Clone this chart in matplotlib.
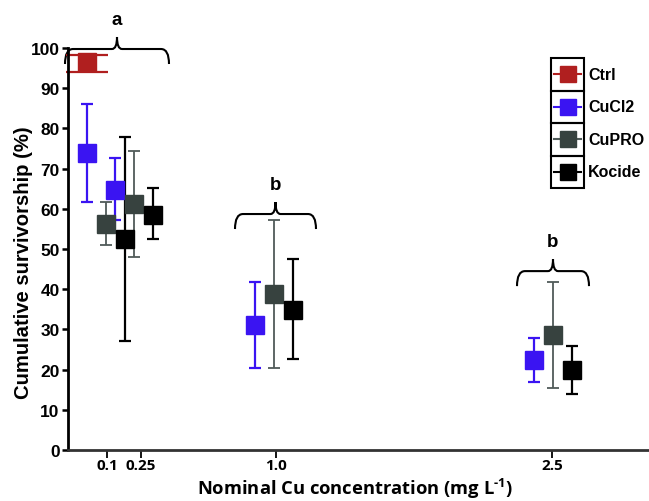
import matplotlib.pyplot as plt
from matplotlib.path import Path
from matplotlib.patches import PathPatch, Rectangle

plt.rcParams["mathtext.fontset"] = "custom"
plt.rcParams["mathtext.bf"] = "Open Sans:bold"
plt.rcParams["mathtext.rm"] = "Open Sans:bold"

# concentrations on the x axis
conc_labels = ["0.1", "0.25", "1.0", "2.5"]

# control (only one point, plotted left of the 0.1 group)
ctrl_mean = [96.5]
ctrl_hi = [98.3]
ctrl_lo = [94.0]

cucl2_mean = [73.9, 64.6, 31.1, 22.4]
cucl2_hi = [86.0, 72.7, 41.8, 27.9]
cucl2_lo = [61.6, 57.2, 20.5, 16.9]

cupro_mean = [56.2, 61.2, 38.8, 28.6]
cupro_hi = [61.7, 74.4, 57.2, 41.8]
cupro_lo = [51.0, 48.0, 20.4, 15.4]

kocide_mean = [52.4, 58.4, 34.8, 19.9]
kocide_hi = [77.9, 65.2, 47.5, 25.9]
kocide_lo = [27.2, 52.4, 22.6, 13.9]

sig_letters = ["a", "b", "b"]

# layout (x axis is in pixels from the y axis, not a real scale)
W, H = 649, 502
tick_pos = [39, 73, 208, 484]
group_pos = [38, 66, 206, 485]
offsets = {"CuCl2": -19, "CuPRO": 0, "Kocide": 19}
colors = {"Ctrl": "#b01f1f", "CuCl2": "#3a14f2", "CuPRO": "#37423f", "Kocide": "#000000"}
ecolors = {"Ctrl": "#b01f1f", "CuCl2": "#3a14f2", "CuPRO": "#505b59", "Kocide": "#000000"}

fig = plt.figure(figsize=(W / 100, H / 100), dpi=100)
ax = fig.add_axes([68 / W, 51 / H, (W - 68) / W, 402 / H])


def draw(xs, mean, lo, hi, name, cap=4.5, lw=1.6):
    err = [[m - l for m, l in zip(mean, lo)], [h - m for m, h in zip(mean, hi)]]
    ax.errorbar(xs, mean, yerr=err, fmt="s", ms=13, mfc=colors[name], mec=colors[name],
                ecolor=ecolors[name], elinewidth=lw, capsize=cap, capthick=lw, clip_on=False)


draw([group_pos[0] + offsets["CuCl2"]], ctrl_mean, ctrl_lo, ctrl_hi, "Ctrl", cap=15)
for name, m, lo, hi in [("CuCl2", cucl2_mean, cucl2_lo, cucl2_hi),
                        ("CuPRO", cupro_mean, cupro_lo, cupro_hi),
                        ("Kocide", kocide_mean, kocide_lo, kocide_hi)]:
    xs = [g + offsets[name] for g in group_pos]
    draw(xs, m, lo, hi, name, lw=1.3 if name == "CuPRO" else 1.6)

ax.set_xlim(0, W - 68)
ax.set_ylim(0, 100)
ax.set_yticks(range(0, 101, 10))
ax.set_xticks(tick_pos)
ax.set_xticklabels(conc_labels, fontfamily="Open Sans", fontweight="bold", fontsize=11)
for t in ax.get_yticklabels():
    t.set_fontfamily("Liberation Sans")
    t.set_fontweight("bold")
    t.set_fontsize(12.5)
ax.tick_params(axis="x", length=6, width=1.3, pad=0)
ax.tick_params(axis="y", length=4, width=1.8, pad=2)
ax.spines["top"].set_visible(False)
ax.spines["right"].set_visible(False)
ax.spines["left"].set_linewidth(2)
ax.spines["bottom"].set_linewidth(2)
ax.spines["bottom"].set_color("#333333")

# curly braces over the groups
ppu = 402 / 100.0


def brace(x0, x1, y, letter):
    xm = (x0 + x1) / 2
    drop = 15 / ppu
    peak = 12 / ppu
    r = 8
    verts = [(x0, y - drop), (x0, y), (x0 + r, y), (xm - 5, y), (xm, y), (xm, y + peak),
             (xm, y), (xm + 5, y), (x1 - r, y), (x1, y), (x1, y - drop)]
    codes = [Path.MOVETO, Path.CURVE3, Path.CURVE3, Path.LINETO, Path.CURVE3, Path.CURVE3,
             Path.CURVE3, Path.CURVE3, Path.LINETO, Path.CURVE3, Path.CURVE3]
    ax.add_patch(PathPatch(Path(verts, codes), fill=False, lw=1.5, color="black", clip_on=False))
    ax.text(xm, y + 30 / ppu, letter, ha="center", va="center", fontsize=13.5,
            fontweight="bold", fontfamily="Liberation Sans")


brace(-3, 101, 99.75, sig_letters[0])
brace(167, 248, 58.7, sig_letters[1])
brace(449, 521, 44.5, sig_letters[2])

# boxed legend
lax = fig.add_axes([551 / W, 1 - 189 / H, 33 / W, 130 / H])
lax.set_xlim(0, 33)
lax.set_ylim(130, 0)
lax.axis("off")
for i, name in enumerate(["Ctrl", "CuCl2", "CuPRO", "Kocide"]):
    y0 = i * 32.5
    lax.add_patch(Rectangle((0, y0), 33, 32.5, fill=False, lw=1.5, ec="black", clip_on=False))
    lax.plot([3, 30], [y0 + 16.25] * 2, color=ecolors[name], lw=1.5)
    lax.plot([16.5], [y0 + 16.25], "s", ms=11, color=colors[name])
    lax.text(37, y0 + 16.25, name, ha="left", va="center", fontsize=11.5,
             fontweight="bold", fontfamily="Liberation Sans", clip_on=False)

fig.text(24 / W, 1 - 263 / H, "Cumulative survivorship (%)", rotation=90, ha="center", va="center",
         fontsize=14.6, fontweight="bold", fontfamily="Liberation Sans")
fig.text(355 / W, 1 - 489 / H, "Nominal Cu concentration (mg L$^{\\text{-1}}$)", ha="center",
         va="center", fontsize=13.2, fontweight="bold", fontfamily="Open Sans")

fig.savefig("out.png", dpi=100)
